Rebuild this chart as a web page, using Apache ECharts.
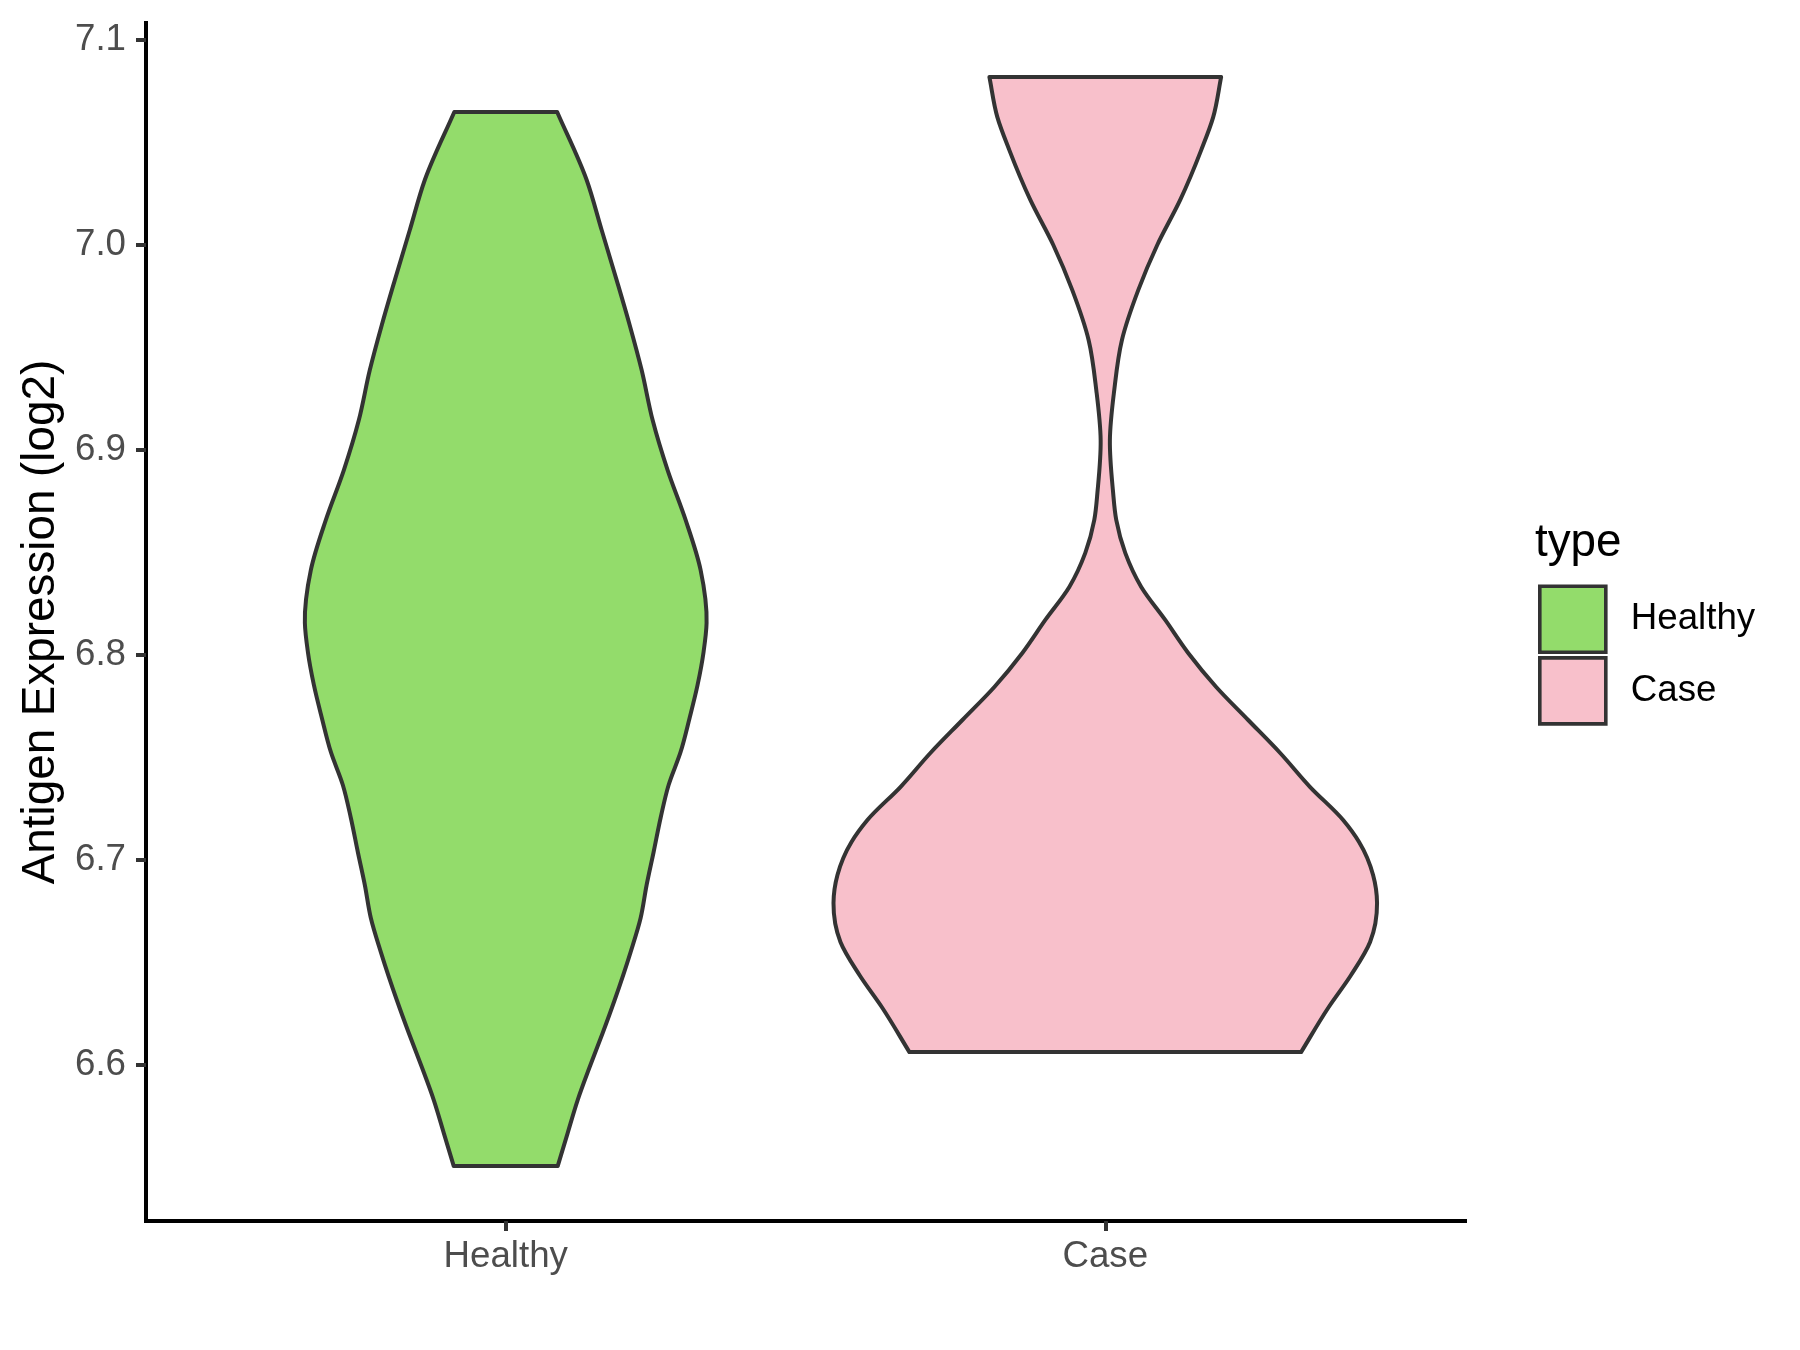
<!DOCTYPE html>
<html>
<head>
<meta charset="utf-8">
<script src="https://cdn.jsdelivr.net/npm/echarts@6/dist/echarts.min.js"></script>
<style>
html,body{margin:0;padding:0;background:#fff;}
#chart{width:1800px;height:1350px;}
</style>
</head>
<body>
<div id="chart"></div>
<script>
// ---- data ----
const categories = ['Healthy', 'Case'];
const categoryPos = [1, 2];
const legendTitle = 'type';
const yTicks = [6.6, 6.7, 6.8, 6.9, 7.0, 7.1];

// Healthy violin outline: expression value (top -> bottom) and half-width (x units)
const healthyY = [7.0649, 7.0317, 7.0073, 6.9829, 6.9610, 6.9390, 6.9146, 6.8902, 6.8659, 6.8415,
  6.8156, 6.8015, 6.7854, 6.7693, 6.7527, 6.7366, 6.7205, 6.7039, 6.6878, 6.6717, 6.6551, 6.6317,
  6.6156, 6.5990, 6.5829, 6.5668, 6.5507];
const healthyHalf = [0.0858, 0.1350, 0.1600, 0.1850, 0.2067, 0.2267, 0.2450, 0.2700, 0.3000, 0.3250,
  0.3350, 0.3300, 0.3200, 0.3067, 0.2917, 0.2717, 0.2583, 0.2467, 0.2350, 0.2250, 0.2083, 0.1817,
  0.1617, 0.1400, 0.1200, 0.1033, 0.0867];

// Case violin outline
const caseY = [7.0820, 7.0624, 7.0463, 7.0220, 7.0000, 6.9780, 6.9537, 6.9293, 6.9049, 6.8805,
  6.8659, 6.8498, 6.8332, 6.8171, 6.8010, 6.7844, 6.7683, 6.7522, 6.7356, 6.7195, 6.7088, 6.6927,
  6.6790, 6.6600, 6.6439, 6.6278, 6.6063];
const caseHalf = [0.1933, 0.1800, 0.1600, 0.1250, 0.0867, 0.0550, 0.0278, 0.0150, 0.0077, 0.0127,
  0.0183, 0.0333, 0.0600, 0.1000, 0.1383, 0.1850, 0.2383, 0.2917, 0.3417, 0.3967, 0.4233, 0.4467,
  0.4533, 0.4417, 0.4100, 0.3717, 0.3267];

const colors = ['#93DC6B', '#F8C0CB'];
const FONT = '"Liberation Sans", Arial, sans-serif';

// Smooth drawing through outline points: Hermite curve with x treated as a function of y
function hermite(pts) {
  const n = pts.length;
  const h = [], d = [];
  for (let i = 0; i < n - 1; i++) {
    h.push(pts[i + 1][1] - pts[i][1]);
    d.push((pts[i + 1][0] - pts[i][0]) / h[i]);
  }
  const m = [];
  for (let i = 0; i < n; i++) {
    if (i === 0) m.push(d[0]);
    else if (i === n - 1) m.push(d[n - 2]);
    else m.push((d[i - 1] * h[i] + d[i] * h[i - 1]) / (h[i - 1] + h[i]));
  }
  let s = '';
  for (let i = 0; i < n - 1; i++) {
    const c1x = pts[i][0] + m[i] * h[i] / 3, c1y = pts[i][1] + h[i] / 3;
    const c2x = pts[i + 1][0] - m[i + 1] * h[i] / 3, c2y = pts[i + 1][1] - h[i] / 3;
    s += ' C' + c1x + ' ' + c1y + ' ' + c2x + ' ' + c2y + ' ' + pts[i + 1][0] + ' ' + pts[i + 1][1];
  }
  return s;
}

function makeRender(center, ys, hs, fill) {
  return function (params, api) {
    const left = ys.map((y, i) => api.coord([center - hs[i], y]));
    const right = ys.map((y, i) => api.coord([center + hs[i], y])).reverse();
    let d = 'M' + left[0][0] + ' ' + left[0][1];
    d += hermite(left);
    d += ' L' + right[0][0] + ' ' + right[0][1];
    d += hermite(right);
    d += ' Z';
    return {
      type: 'path',
      shape: { pathData: d },
      style: { fill: fill, stroke: '#333333', lineWidth: 4, lineJoin: 'round' }
    };
  };
}

const chart = echarts.init(document.getElementById('chart'), null, { renderer: 'canvas' });
chart.setOption({
  animation: false,
  backgroundColor: '#ffffff',
  grid: { left: 146, right: 335, top: 23, bottom: 129, containLabel: false, outerBoundsMode: 'none' },
  xAxis: {
    type: 'value', min: 0.4, max: 2.6,
    splitLine: { show: false },
    axisLine: { show: true, onZero: false, lineStyle: { color: '#000000', width: 4, cap: 'square' } },
    axisTick: { show: true, customValues: categoryPos, length: 10, lineStyle: { color: '#333333', width: 4 } },
    axisLabel: {
      show: true, customValues: categoryPos, margin: 17,
      formatter: v => categories[categoryPos.indexOf(Math.round(v))] || '',
      color: '#4D4D4D', fontSize: 36.7, fontFamily: FONT
    }
  },
  yAxis: {
    type: 'value', min: 6.5239, max: 7.1083,
    splitLine: { show: false },
    axisLine: { show: true, onZero: false, lineStyle: { color: '#000000', width: 4, cap: 'square' } },
    axisTick: { show: true, customValues: yTicks, length: 10, lineStyle: { color: '#333333', width: 4 } },
    axisLabel: {
      show: true, customValues: yTicks, margin: 20,
      formatter: v => Number(v).toFixed(1),
      color: '#4D4D4D', fontSize: 36.7, fontFamily: FONT
    },
    name: 'Antigen Expression (log2)',
    nameLocation: 'middle', nameGap: 80, nameRotate: 90,
    nameTextStyle: { color: '#000000', fontSize: 45.8, fontFamily: FONT }
  },
  legend: {
    orient: 'vertical', left: 1538, top: 584.5, padding: 0,
    itemWidth: 66, itemHeight: 66, itemGap: 2,
    selectedMode: false,
    textStyle: { color: '#000000', fontSize: 36.7, fontFamily: FONT, padding: [0, 0, 0, 20] },
    data: categories.map((c, i) => ({
      name: c, icon: 'rect',
      itemStyle: { color: colors[i], borderColor: '#333333', borderWidth: 3.6 }
    }))
  },
  graphic: [{
    type: 'text', left: 1535, top: 520,
    style: { text: legendTitle, fill: '#000000', fontSize: 45.8, fontFamily: FONT }
  }],
  series: [
    {
      name: categories[0], type: 'custom',
      itemStyle: { color: colors[0] },
      renderItem: makeRender(categoryPos[0], healthyY, healthyHalf, colors[0]),
      data: [[categoryPos[0], healthyY[0]]]
    },
    {
      name: categories[1], type: 'custom',
      itemStyle: { color: colors[1] },
      renderItem: makeRender(categoryPos[1], caseY, caseHalf, colors[1]),
      data: [[categoryPos[1], caseY[0]]]
    }
  ]
});
</script>
</body>
</html>
